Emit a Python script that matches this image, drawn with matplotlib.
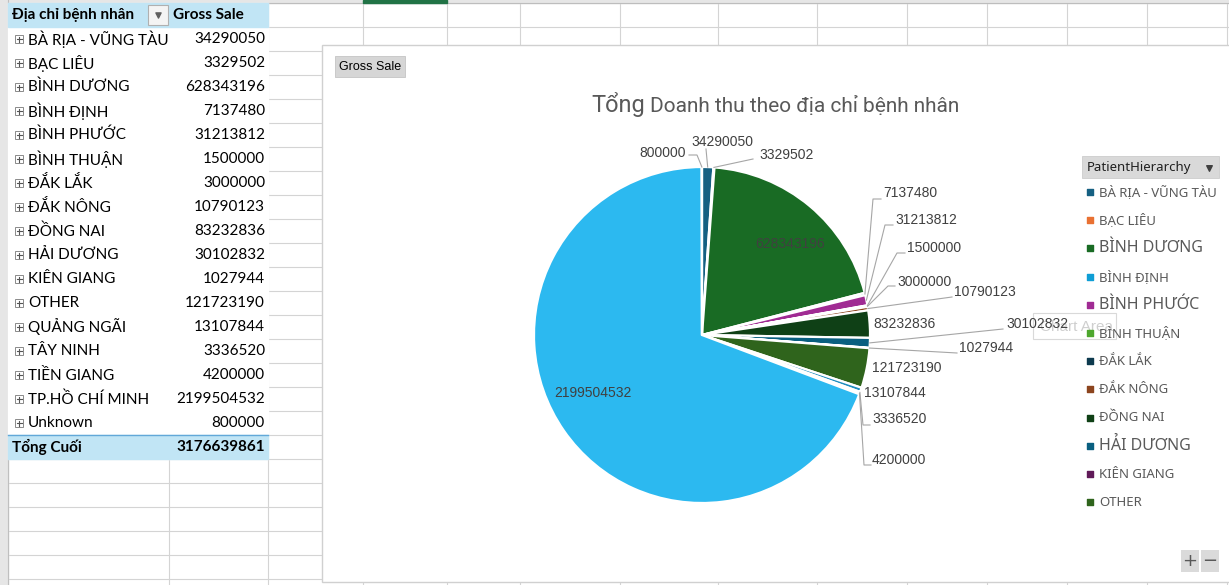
import matplotlib.pyplot as plt
from matplotlib.patches import Rectangle
import numpy as np

# ---- data (pivot table / pie) ----
provinces = ["BÀ RỊA - VŨNG TÀU", "BẠC LIÊU", "BÌNH DƯƠNG", "BÌNH ĐỊNH", "BÌNH PHƯỚC",
             "BÌNH THUẬN", "ĐẮK LẮK", "ĐẮK NÔNG", "ĐỒNG NAI", "HẢI DƯƠNG", "KIÊN GIANG",
             "OTHER", "QUẢNG NGÃI", "TÂY NINH", "TIỀN GIANG", "TP.HỒ CHÍ MINH", "Unknown"]
gross_sale = [34290050, 3329502, 628343196, 7137480, 31213812, 1500000, 3000000,
              10790123, 83232836, 30102832, 1027944, 121723190, 13107844, 3336520,
              4200000, 2199504532, 800000]
header = ["Địa chỉ bệnh nhân", "Gross Sale"]
total_label = "Tổng Cuối"
title_big = "Tổng"
title_rest = "Doanh thu theo địa chỉ bệnh nhân"
legend_title = "PatientHierarchy"
field_button = "Gross Sale"

colors = ["#156082", "#E97132", "#196B24", "#0F9ED5", "#A02B93", "#4EA72E",
          "#0D3A4E", "#8C441E", "#0F4016", "#095F80", "#601A58", "#2F641C",
          "#1F8DBF", "#EE8D5B", "#27A938", "#2CB9F0", "#CC3EBB"]

W, H = 1229, 585
fig = plt.figure(figsize=(W / 100, H / 100), dpi=100)
ax = fig.add_axes([0, 0, 1, 1])

FONT = "Liberation Sans"
TFONT = "Lato"
GRID = "#d4d4d4"

# ---- spreadsheet background ----
col_lines = [8, 169, 268, 363, 447, 520, 620, 718, 817, 907, 987, 1067, 1147, 1227]
for x in col_lines:
    ax.plot([x, x], [3, H], color=GRID, lw=0.8, zorder=0)
for y in range(3, H, 24):
    ax.plot([8, W], [y, y], color=GRID, lw=0.8, zorder=0)
ax.add_patch(Rectangle((0, 0), W, 3, color="#e6e6e6", zorder=1))
ax.plot([0, W], [3, 3], color="#bdbdbd", lw=0.8, zorder=1)
ax.add_patch(Rectangle((363, 0), 84, 3, color="#217346", zorder=1))
ax.add_patch(Rectangle((0, 0), 8, H, color="#e6e6e6", zorder=1))
ax.plot([8, 8], [0, H], color="#bfbfbf", lw=0.8, zorder=1)

# ---- pivot table ----
n = len(provinces)
ax.add_patch(Rectangle((8, 3), 260, 24 * (n + 2), color="white", zorder=1))
ax.add_patch(Rectangle((8, 3), 260, 24, color="#c1e5f5", zorder=1))
ax.add_patch(Rectangle((8, 27 + 24 * n), 260, 24, color="#c1e5f5", zorder=1))
ax.plot([8, 268], [27 + 24 * n, 27 + 24 * n], color="#62a8d8", lw=1, zorder=2)
ax.text(12, 15, header[0], fontsize=11, fontweight="bold", family=TFONT,
        va="center", zorder=3)
ax.text(173, 15, header[1], fontsize=11, fontweight="bold", family=TFONT,
        va="center", zorder=3)
ax.add_patch(Rectangle((148, 5), 20, 20, facecolor="#f4f4f4", edgecolor="#b0b0b0",
                       lw=0.8, zorder=2))
ax.scatter([158], [15], marker="v", s=14, color="#606060", zorder=3)
for i, (name, val) in enumerate(zip(provinces, gross_sale)):
    yc = 39 + 24 * i
    ax.add_patch(Rectangle((15, yc - 4), 8, 8, facecolor="white", edgecolor="#8a8a8a",
                           lw=0.7, zorder=2))
    ax.plot([16.5, 21.5], [yc, yc], color="#555555", lw=0.8, zorder=3)
    ax.plot([19, 19], [yc - 2.5, yc + 2.5], color="#555555", lw=0.8, zorder=3)
    ax.text(28, yc, name, fontsize=11, family=TFONT, va="center", zorder=3)
    ax.text(265, yc, str(val), fontsize=11, family=TFONT, va="center", ha="right", zorder=3)
ax.text(12, 39 + 24 * n, total_label, fontsize=11, fontweight="bold", family=TFONT,
        va="center", zorder=3)
ax.text(265, 39 + 24 * n, str(sum(gross_sale)), fontsize=11, fontweight="bold",
        family=TFONT, va="center", ha="right", zorder=3)

# ---- chart area ----
ax.add_patch(Rectangle((322, 45), 940, 537, facecolor="white", edgecolor="#d0d0d0",
                       lw=1, zorder=2))
ax.add_patch(Rectangle((335, 56), 70, 21, facecolor="#d6d6d6", edgecolor="#c4c4c4",
                       lw=0.6, zorder=3))
ax.text(339, 67, field_button, fontsize=9, family=FONT, va="center", zorder=4)
ax.text(591, 112, title_big, fontsize=17, family="Roboto", color="#595959",
        va="baseline", zorder=4)
ax.text(650, 112, title_rest, fontsize=15, family="Roboto", color="#595959",
        va="baseline", zorder=4)

# pie (y axis is inverted -> counterclock=True draws clockwise on screen)
wedges, _ = ax.pie(gross_sale, colors=colors, startangle=-90, counterclock=True,
                   center=(702, 335), radius=168, explode=[0.013] * n,
                   wedgeprops=dict(edgecolor="white", linewidth=1.6))
for w in wedges:
    w.set_zorder(3)

# data label layout: (text x, text y, ha, leader points after the slice edge)
label_layout = [
    (722, 142, "center", [(706, 149)]),
    (759, 155, "left", [(753, 159)]),
    (790, 244, "center", None),
    (883, 193, "left", [(873, 199), (881, 199)]),
    (895, 220, "left", [(885, 225), (893, 225)]),
    (907, 248, "left", [(897, 253), (905, 253)]),
    (897, 282, "left", [(888, 286), (895, 286)]),
    (954, 292, "left", [(952, 297)]),
    (873, 324, "left", []),
    (1006, 324, "left", [(1003, 329)]),
    (959, 348, "left", [(957, 353)]),
    (872, 368, "left", []),
    (864, 393, "left", []),
    (872, 419, "left", [(863, 425), (870, 425)]),
    (872, 460, "left", [(864, 465), (871, 465)]),
    (593, 393, "center", None),
    (686, 153, "right", [(697, 155), (689, 155)]),
]

# "Chart Area" hover tip, partly covered (as in the screenshot)
ax.add_patch(Rectangle((1033, 313), 83, 26, facecolor="white", edgecolor="#d9d9d9",
                       lw=0.8, zorder=4))
ax.text(1040, 327, "Chart Area", fontsize=11, family=FONT, color="#cfcfcf",
        va="center", zorder=4)

for w, val, (tx, ty, ha, path) in zip(wedges, gross_sale, label_layout):
    if path:
        mid = np.deg2rad((w.theta1 + w.theta2) / 2)
        cx, cy = w.center
        px = [cx + w.r * np.cos(mid)] + [p[0] for p in path]
        py = [cy + w.r * np.sin(mid)] + [p[1] for p in path]
        ax.plot(px, py, color="#a6a6a6", lw=0.8, zorder=5)
    ax.text(tx, ty, str(val), fontsize=10, family=FONT, color="#404040",
            ha=ha, va="center", zorder=6)

# ---- legend (only the first entries are visible) ----
ax.add_patch(Rectangle((1082, 156), 137, 22, facecolor="#d9d9d9", edgecolor="#cccccc",
                       lw=0.6, zorder=6))
ax.text(1087, 167, legend_title, fontsize=9.5, family="Noto Sans", color="#202020",
        va="center", zorder=7)
ax.scatter([1209], [168], marker="v", s=16, color="#404040", zorder=7)
legend_sizes = [9.5, 9.5, 11.5, 9.5, 11.5, 9.5, 9.5, 9.5, 9.5, 11.5, 9.5, 9.5]
for i, fs in enumerate(legend_sizes):
    y = 192 + 28.2 * i
    ax.scatter([1090], [y], marker="s", s=18, color=colors[i], zorder=7)
    ax.text(1099, y, provinces[i], fontsize=fs, family="Noto Sans", color="#595959",
            va="center", zorder=7)

# chart +/- buttons
for bx, sym in [(1181, "+"), (1201, "\u2212")]:
    ax.add_patch(Rectangle((bx, 550), 18, 22, facecolor="#dadada", edgecolor="none",
                           zorder=6))
    ax.text(bx + 9, 561, sym, fontsize=13, color="#595959", ha="center", va="center",
            zorder=7)

ax.set_xlim(0, W)
ax.set_ylim(H, 0)
ax.set_aspect("auto")
ax.axis("off")
fig.savefig("out.png", dpi=100)
